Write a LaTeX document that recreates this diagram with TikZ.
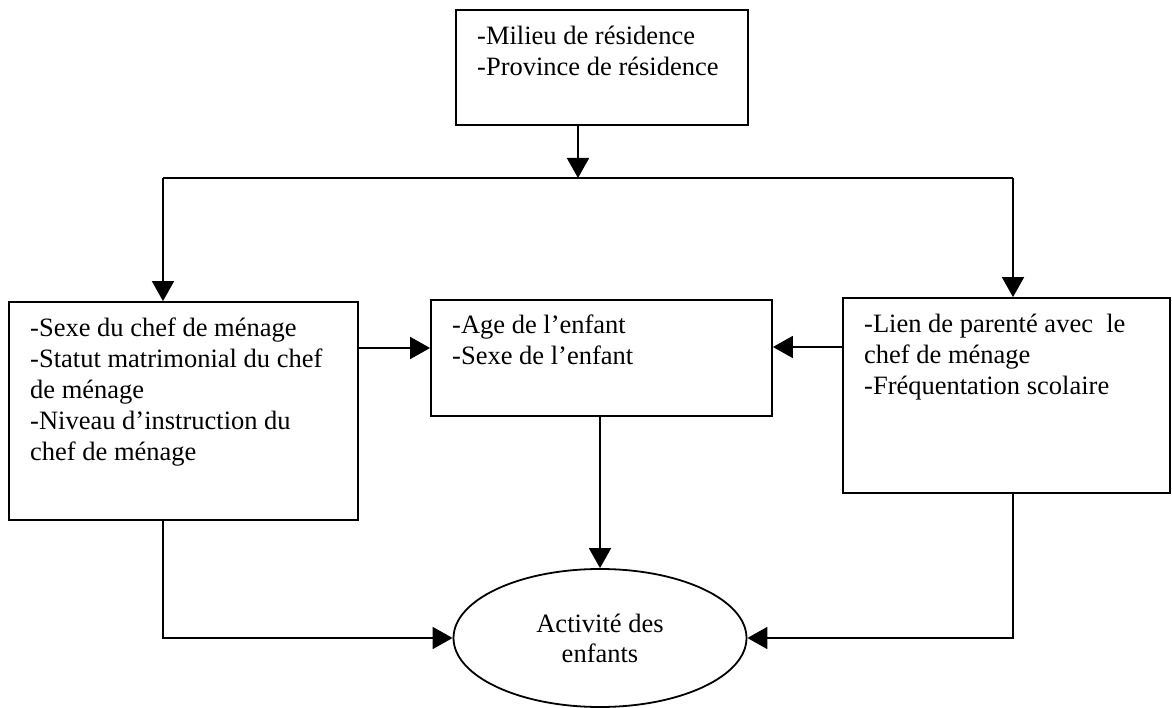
\documentclass[tikz,border=0pt]{standalone}
\usepackage{fontspec}
\setmainfont{Liberation Serif}
\usetikzlibrary{arrows.meta,shapes.geometric}
\tikzset{
  box/.style={draw, line width=1.8pt, rectangle, inner sep=0pt},
  oval/.style={draw, line width=1.8pt, ellipse, inner sep=0pt},
  txt/.style={anchor=north west, inner sep=0pt, align=left, font=\fontsize{26.5}{31}\selectfont},
  conn/.style={line width=1.8pt},
  arr/.style={line width=1.8pt, -{Triangle[length=20pt,width=22pt]}}
}
\begin{document}
\begin{tikzpicture}[x=1pt,y=-1pt]
\useasboundingbox (0,0) rectangle (1172,708);
% boxes
\node[box, minimum width=292pt, minimum height=115pt] (top) at (602,67.5) {};
\node[box, minimum width=349pt, minimum height=218pt] (left) at (183.5,411) {};
\node[box, minimum width=341pt, minimum height=116pt] (mid) at (601.5,358) {};
\node[box, minimum width=327pt, minimum height=195pt] (right) at (1006.5,395.5) {};
\node[oval, minimum width=293pt, minimum height=138pt, align=center,
      font=\fontsize{26.5}{30}\selectfont] (act) at (600,638) {Activité des\\enfants};
% texts
\node[txt] (ttop) at (477,23) {\strut-Milieu de résidence\\-Province de résidence};
\node[txt] (tleft) at (30,315) {\strut-Sexe du chef de ménage\\-Statut matrimonial du chef\\de ménage\\-Niveau d’instruction du\\chef de ménage};
\node[txt] (tmid) at (452,312) {\strut-Age de l’enfant\\-Sexe de l’enfant};
\node[txt] (tright) at (864,311) {\strut-Lien de parenté avec\ \ le\\chef de ménage\\-Fréquentation scolaire};
% junctions
\coordinate (split) at (578,178);
\coordinate (jl) at (163,178);
\coordinate (jr) at (1013,178);
\coordinate (hl) at (390,348);
\coordinate (hr) at (800,347);
% connectors
\draw[arr] (split |- top.south) -- (split);
\draw[conn] (jl) -- (jr);
\draw[arr] (jl) -- (jl |- left.north);
\draw[arr] (jr) -- (jr |- right.north);
\draw[arr] (hl -| left.east) -- (hl -| mid.west);
\draw[arr] (hr -| right.west) -- (hr -| mid.east);
\draw[arr] (act.north |- mid.south) -- (act.north);
\draw[arr] (jl |- left.south) |- (act.west);
\draw[arr] (jr |- right.south) |- (act.east);
\end{tikzpicture}
\end{document}
